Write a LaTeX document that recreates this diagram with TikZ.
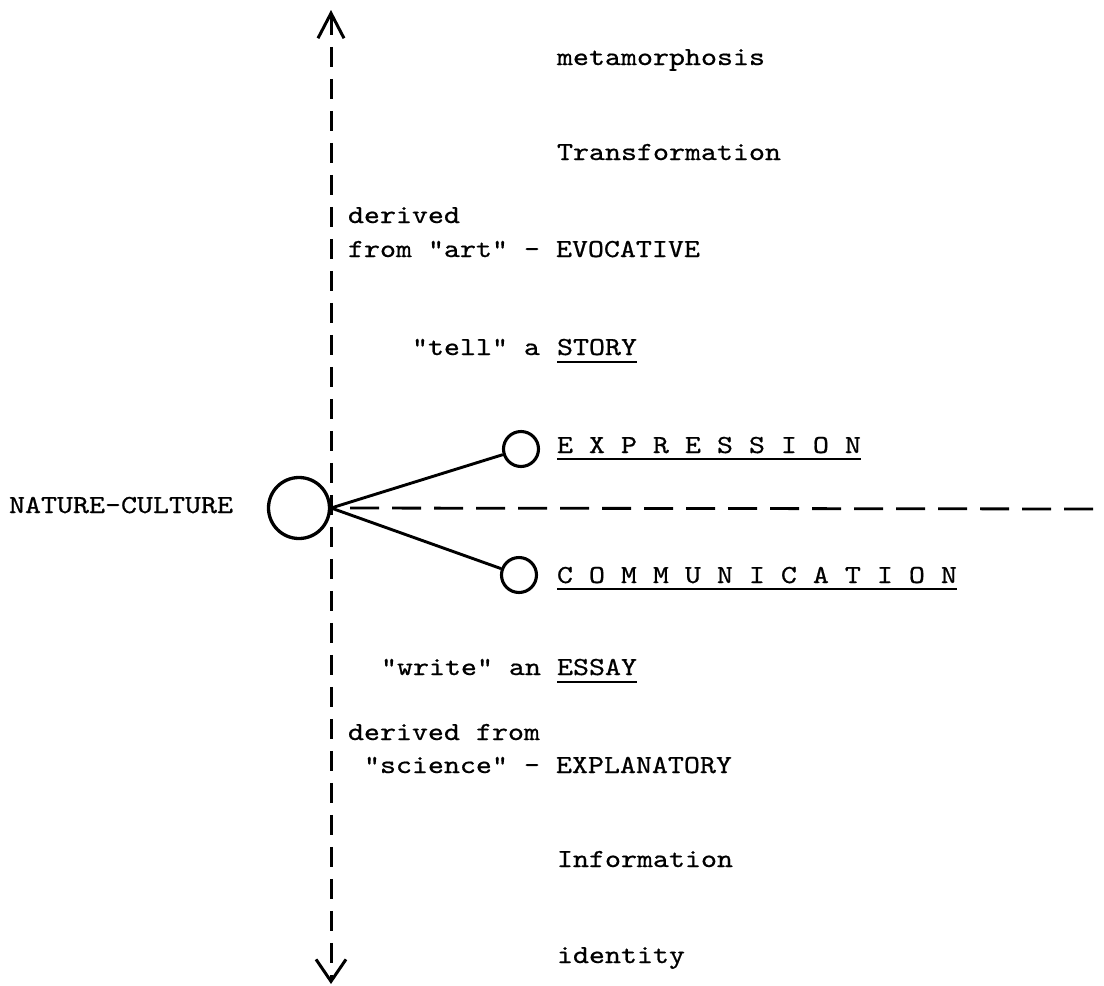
\documentclass[tikz,border=0pt]{standalone}
\usepackage{fontspec}
\newfontfamily\twfont{lmmono10-regular.otf}[FakeBold=0.6]
\usetikzlibrary{arrows.meta}
\begin{document}
\begin{tikzpicture}[x=1pt,y=-1pt,
  tw/.style={font=\twfont\fontsize{26}{30}\selectfont, xscale=1.172, inner sep=0pt, outer sep=0pt, anchor=base west},
  bigcirc/.style={draw, circle, line width=3.3pt, minimum size=61pt, inner sep=0pt},
  smallcirc/.style={draw, circle, line width=3.1pt, minimum size=35pt, inner sep=0pt},
  link/.style={line width=2.9pt},
  axis/.style={line width=3pt, dash pattern=on 20pt off 12pt,
    {Straight Barb[length=25pt,width=26pt,line width=3pt]}-{Straight Barb[length=22pt,width=30pt,line width=3pt]}},
  hdash/.style={line width=2.8pt, dash pattern=on 29pt off 13pt},
  uline/.style={line width=2.2pt}]
\useasboundingbox (0,0) rectangle (1104,986);
\fill[white] (0,0) rectangle (1104,986);

% axis ends
\coordinate (axT) at (331,10);
\coordinate (axB) at (331,984);
\coordinate (hend) at (1104,509);

% circles
\node[bigcirc] (nc) at (299,508) {};
\node[smallcirc] (ex) at (521,449) {};
\node[smallcirc] (co) at (519,575) {};

% connectors
\draw[axis] (axT) -- (axB);
\draw[hdash, shorten <=19pt] (nc.east) -- (hend);
\draw[link] (nc.east) -- (ex);
\draw[link] (nc.east) -- (co);

% texts
\node[tw] (meta) at (557,65) {metamorphosis};
\node[tw] (trans) at (557,160) {Transformation};
\node[tw] (der1) at (348,223) {derived};
\node[tw] (art) at (348,257) {from "art" - EVOCATIVE};
\node[tw] (tell) at (412,355) {"tell" a};
\node[tw] (story) at (557,355) {STORY};
\node[tw] (expr) at (557,453) {E X P R E S S I O N};
\node[tw, anchor=base east] (natc) at (233,513) {NATURE-CULTURE};
\node[tw] (comm) at (557,583) {C O M M U N I C A T I O N};
\node[tw] (write) at (381,675) {"write" an};
\node[tw] (essay) at (557,675) {ESSAY};
\node[tw] (der2) at (348,740) {derived from};
\node[tw] (sci) at (364,773) {"science" - EXPLANATORY};
\node[tw] (info) at (557,867) {Information};
\node[tw] (ident) at (557,963) {identity};

% underlines
\draw[uline] ([yshift=-7pt]story.base west) -- ([yshift=-7pt]story.base east);
\draw[uline] ([yshift=-6pt]expr.base west) -- ([yshift=-6pt]expr.base east);
\draw[uline] ([yshift=-6pt]comm.base west) -- ([yshift=-6pt]comm.base east);
\draw[uline] ([yshift=-7pt]essay.base west) -- ([yshift=-7pt]essay.base east);
\end{tikzpicture}
\end{document}
